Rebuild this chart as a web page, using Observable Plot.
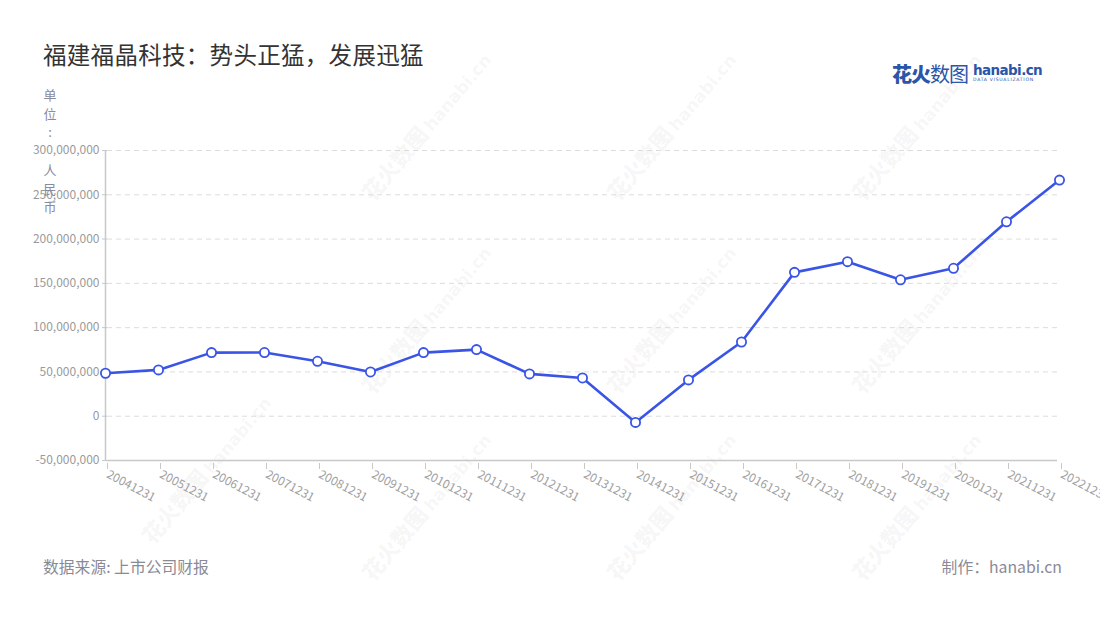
<!DOCTYPE html>
<html>
<head>
<meta charset="utf-8">
<script src="https://cdn.jsdelivr.net/npm/d3@7"></script>
<script src="https://cdn.jsdelivr.net/npm/@observablehq/plot@0.6"></script>
<style>
  html, body { margin: 0; padding: 0; background: #fff; }
  #wrap { position: relative; width: 1100px; height: 620px; overflow: hidden; font-family: "Noto Sans CJK SC", "Noto Sans", sans-serif; }
  #chart { position: absolute; left: 0; top: 0; }
  .title { position: absolute; left: 43px; top: 37px; font-size: 23.5px; color: #333; letter-spacing: 0.3px; }
  .ylab { position: absolute; left: 42px; top: 86px; width: 16px; font-size: 13px; line-height: 18.7px; color: #8a8a9c; text-align: center; }
  .src { position: absolute; left: 43px; top: 555px; font-size: 15.8px; color: #8a8a96; }
  .made { position: absolute; right: 38px; top: 555px; font-size: 15.8px; color: #8a8a96; }
  .logo { position: absolute; left: 892px; top: 59px; white-space: nowrap; }
  .logo .cn { font-size: 20px; color: #2a55a8; letter-spacing: -1px; display: inline-block; vertical-align: top; }
  .logo .cn b { font-weight: 900; }
  .logo .en { display: inline-block; vertical-align: top; margin-left: 5px; margin-top: 4px; }
  .logo .en .a { font-size: 13.5px; font-weight: 700; color: #2a55a8; line-height: 14px; font-family: "DejaVu Sans", sans-serif; letter-spacing: -0.6px;}
  .logo .en .b { font-size: 4.6px; color: #2a55a8; letter-spacing: 0.7px; line-height: 6px; font-family: "DejaVu Sans", sans-serif;}
  .wm { position: absolute; transform: translate(-50%, -50%) rotate(-50deg); white-space: nowrap; color: rgba(0,0,0,0.05); font-weight: 900; pointer-events: none; }
  .wm .c { font-size: 22px; }
  .wm .e { font-size: 17px; margin-left: 4px; font-family: "DejaVu Sans", sans-serif; font-weight: 700; }
</style>
</head>
<body>
<div id="wrap">
  <div id="chart"></div>
  <div class="title">福建福晶科技：势头正猛，发展迅猛</div>
  <div class="ylab" id="ylab"></div>
  <div class="logo"><span class="cn"><b>花火</b>数图</span><span class="en"><div class="a">hanabi.cn</div><div class="b">DATA VISUALIZATION</div></span></div>
  <div class="src">数据来源: 上市公司财报</div>
  <div class="made">制作：hanabi.cn</div>
</div>
<script>
// ---- data ----
const dates = ["20041231","20051231","20061231","20071231","20081231","20091231","20101231","20111231","20121231","20131231","20141231","20151231","20161231","20171231","20181231","20191231","20201231","20211231","20221231"];
const values = [48500000, 52300000, 71800000, 71900000, 62000000, 50000000, 71800000, 75200000, 47800000, 43200000, -7000000, 41000000, 83800000, 162400000, 174500000, 154000000, 167000000, 219500000, 266600000];
const yTicks = [-50000000, 0, 50000000, 100000000, 150000000, 200000000, 250000000, 300000000];
const yLabel = "单位: 人民币";
const wmSpots = [[425,125],[670,125],[915,125],[425,318],[670,318],[915,318],[205,468],[425,505],[670,505],[915,505]];

const data = dates.map((d, i) => ({date: d, value: values[i]}));
const fmt = v => v.toLocaleString("en-US");

const chart = Plot.plot({
  width: 1100,
  height: 620,
  marginLeft: 107,
  marginRight: 43,
  marginTop: 150,
  marginBottom: 160,
  style: { fontFamily: "'Noto Sans CJK SC', 'Noto Sans', sans-serif", fontSize: "12px", background: "transparent" },
  x: { type: "point", domain: dates, padding: 0, range: [99, 1065] },
  y: { domain: [-50000000, 300000000], range: [460, 150] },
  marks: [
    Plot.ruleY(yTicks.filter(t => t > -50000000), { stroke: "#dcdcdc", strokeDasharray: "5,4", strokeWidth: 1 }),
    Plot.ruleY([-50000000], { stroke: "#c8c8c8", strokeWidth: 1.5 }),
    Plot.ruleX([dates[0]], { stroke: "#c8c8c8", strokeWidth: 1.5 }),
    Plot.axisY({ ticks: yTicks, tickFormat: fmt, tickSize: 5, tickPadding: 3, stroke: "#c8c8c8", fill: "#9a9a9a", fontSize: 12, label: null }),
    Plot.axisX({ ticks: dates, tickSize: 6, tickPadding: 4, tickRotate: 28, stroke: "#c8c8c8", fill: "#a0a0a0", fontSize: 12, label: null, dx: 2, dy: 3 }),
    Plot.line(data, { x: "date", y: "value", stroke: "#3a54e6", strokeWidth: 2.6 }),
    Plot.dot(data, { x: "date", y: "value", r: 4.6, fill: "#fff", stroke: "#3a54e6", strokeWidth: 1.8 })
  ]
});
document.getElementById("chart").appendChild(chart);

const yl = document.getElementById("ylab");
yl.innerHTML = Array.from(yLabel).map(c => `<div>${c === " " ? "&nbsp;" : c}</div>`).join("");

const wrap = document.getElementById("wrap");
wmSpots.forEach(([x, y]) => {
  const d = document.createElement("div");
  d.className = "wm";
  d.style.left = x + "px";
  d.style.top = y + "px";
  d.innerHTML = '<span class="c">花火数图</span><span class="e">hanabi.cn</span>';
  wrap.insertBefore(d, wrap.firstChild);
});
</script>
</body>
</html>
